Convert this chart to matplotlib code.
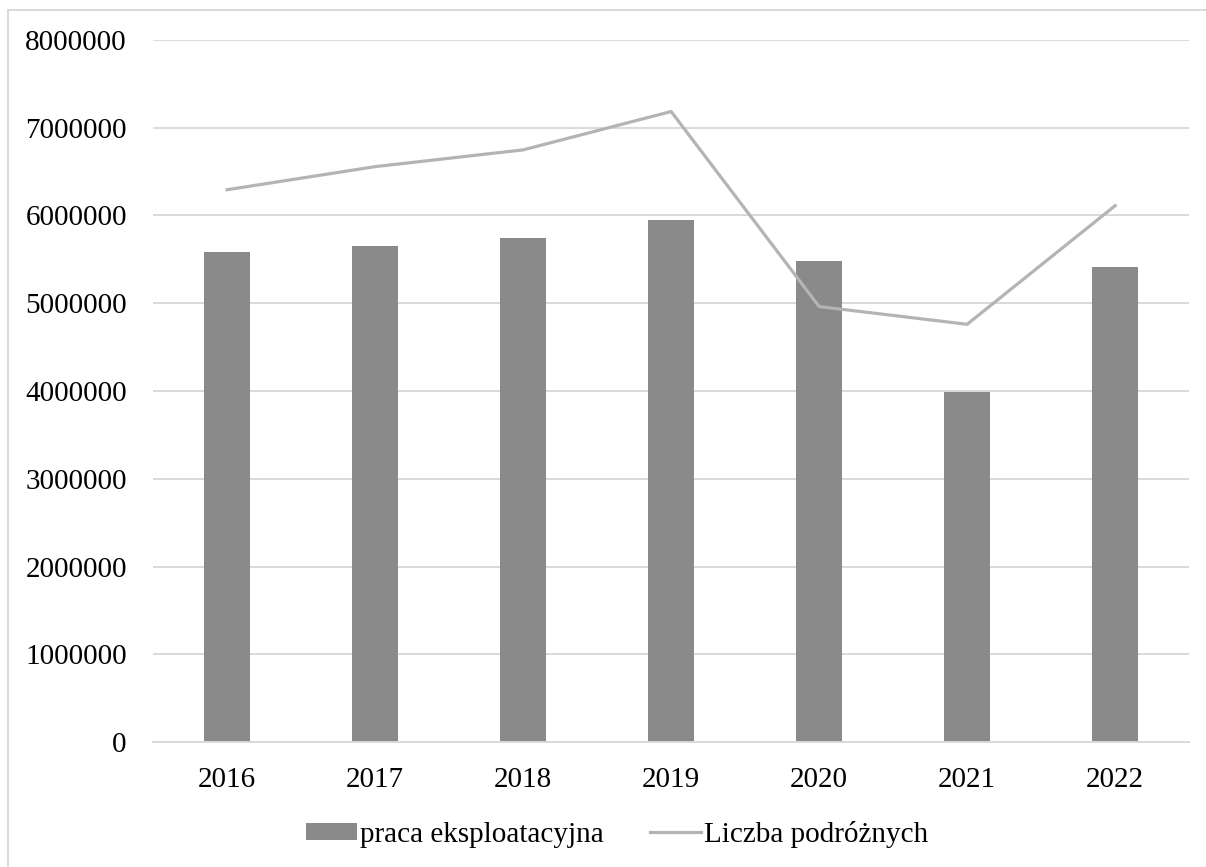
import matplotlib.pyplot as plt
from matplotlib.lines import Line2D

years = ['2016', '2017', '2018', '2019', '2020', '2021', '2022']
praca = [5579000, 5654000, 5742000, 5947000, 5479000, 3988000, 5414000]
podrozni = [6293000, 6556000, 6747000, 7184000, 4962000, 4760000, 6111000]

plt.rcParams['font.family'] = ['Liberation Serif', 'DejaVu Serif']

fig = plt.figure(figsize=(12.06, 8.67), dpi=100)
ax = fig.add_axes([0.127, 0.144, 0.859, 0.81])

x = range(len(years))
bars = ax.bar(x, praca, width=0.31, color='#8a8a8a', label='praca eksploatacyjna', zorder=2)
line, = ax.plot(x, podrozni, color='#b4b4b4', linewidth=2.3, label='Liczba podróżnych', zorder=3)

ax.set_ylim(0, 8000000)
ax.set_xlim(-0.5, len(years) - 0.5)
ax.set_yticks(range(0, 8000001, 1000000))
ax.set_yticklabels([str(v) for v in range(0, 8000001, 1000000)])
ax.set_xticks(list(x))
ax.set_xticklabels(years)
ax.tick_params(axis='both', length=0, labelsize=21, colors='black')
ax.tick_params(axis='y', pad=19)
ax.tick_params(axis='x', pad=18)

ax.grid(axis='y', color='#d9d9d9', linewidth=1.4, zorder=0)
for s in ['top', 'right', 'left']:
    ax.spines[s].set_visible(False)
ax.spines['bottom'].set_color('#d9d9d9')
ax.spines['bottom'].set_linewidth(1.4)

ax.legend([bars, line], ['praca eksploatacyjna', 'Liczba podróżnych'],
          loc='center', bbox_to_anchor=(0.448, -0.131), ncol=2, frameon=False,
          fontsize=21, handlelength=1.75, handleheight=0.5, handletextpad=0.1,
          columnspacing=1.6)

# outer frame
fig.add_artist(Line2D([8 / 1206, 8 / 1206], [0, 1 - 10 / 867], transform=fig.transFigure,
                      color='#d9d9d9', linewidth=1.4))
fig.add_artist(Line2D([8 / 1206, 1], [1 - 10 / 867, 1 - 10 / 867], transform=fig.transFigure,
                      color='#d9d9d9', linewidth=1.4))

fig.savefig('out.png', dpi=100)
